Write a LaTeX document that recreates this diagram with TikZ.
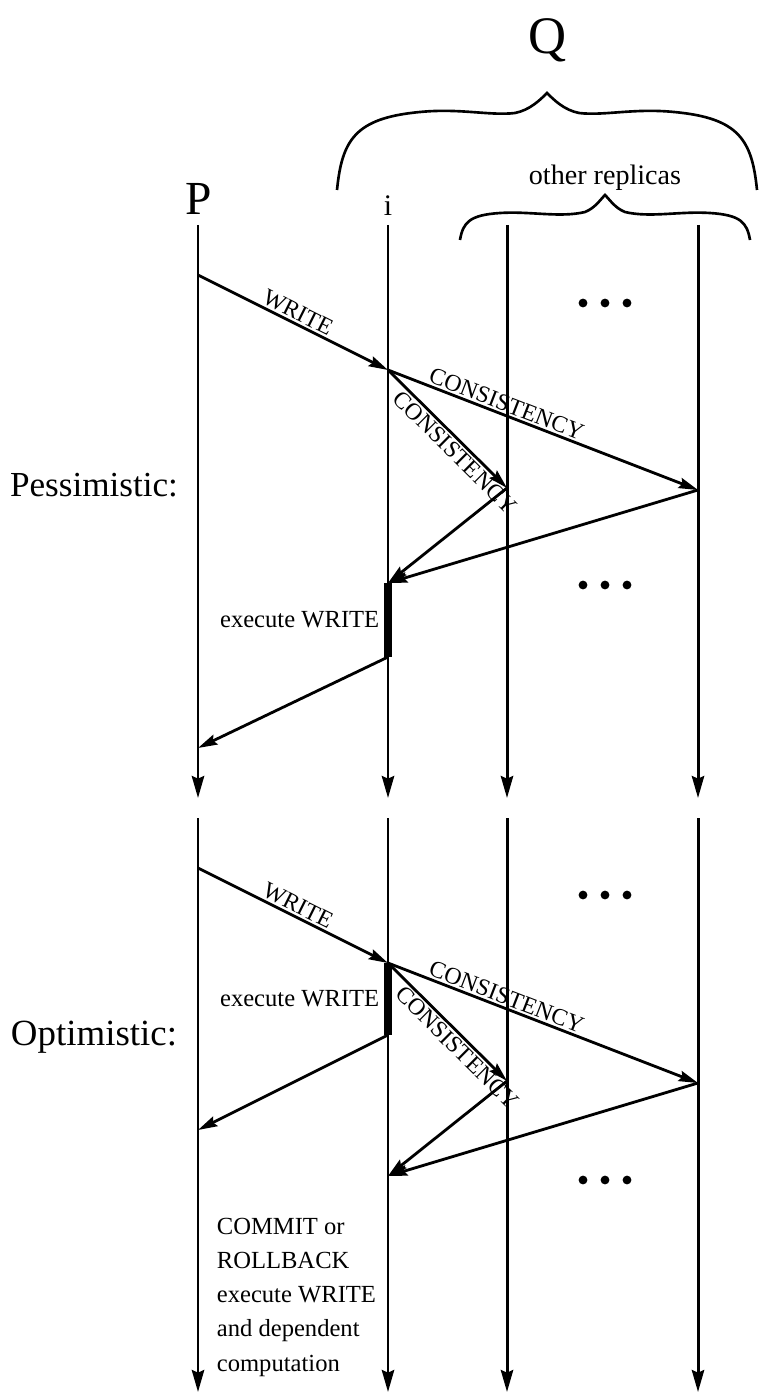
\documentclass[tikz,border=0pt]{standalone}
\usepackage{fontspec}
\setmainfont{Liberation Serif}
\usetikzlibrary{arrows.meta}

\begin{document}
\begin{tikzpicture}[
  x=0.02cm, y=-0.02cm,
  life/.style={line width=1.7pt, -{Stealth[length=12.5pt, width=7pt, inset=1.5pt]}},
  msg/.style={line width=1.6pt, -{Stealth[length=11pt, width=6pt, inset=1.5pt]}},
  busy/.style={line width=4pt},
  brc/.style={line width=1.5pt},
  lbl/.style={font=\fontsize{13.5}{14}\selectfont, sloped, inner sep=1pt},
  note/.style={font=\fontsize{14}{19.5}\selectfont, align=left, inner sep=2pt},
  mode/.style={font=\fontsize{20}{20}\selectfont}
]
\useasboundingbox (0,0) rectangle (764,1395);

% names of the processes
\node (q) at (548,40) {\fontsize{30}{30}\selectfont Q};
\node (p) at (199,199) {\fontsize{27}{27}\selectfont P};
\node (i) at (388,206) {\fontsize{17}{17}\selectfont i};
\node (others) at (605,178) {\fontsize{16}{16}\selectfont other replicas};

% braces
\draw[brc] (337,190) .. controls (342,140) and (355,118) .. (420,112)
  .. controls (460,108) and (490,116) .. (515,113)
  .. controls (530,110) and (540,100) .. (547,93)
  .. controls (554,100) and (564,110) .. (579,113)
  .. controls (604,116) and (634,108) .. (674,112)
  .. controls (739,118) and (752,140) .. (757,190);
\draw[brc] (460,240) .. controls (463,222) and (470,215) .. (500,213)
  .. controls (530,211) and (560,218) .. (585,212)
  .. controls (595,208) and (600,200) .. (605,195)
  .. controls (610,200) and (615,208) .. (625,212)
  .. controls (650,218) and (680,211) .. (710,213)
  .. controls (740,215) and (747,222) .. (750,240);

% lifelines
\foreach \x in {198,388,507,698} {
  \coordinate (top\x) at (\x,225);
  \coordinate (mid\x) at (\x,798);
  \coordinate (low\x) at (\x,818);
  \coordinate (end\x) at (\x,1392);
  \draw[life] (top\x) -- (mid\x);
  \draw[life] (low\x) -- (end\x);
}

% dots for the replicas left out
\foreach \y in {303,585,895,1180}
  \foreach \x in {583,605,627}
    \fill (\x,\y) circle (4.4);

\node[mode] (pess) at (94,485) {Pessimistic:};
\node[mode] (opt) at (94,1037) {\fontsize{21}{21}\selectfont Optimistic:};

% pessimistic
\coordinate (w1p) at (198,275);
\coordinate (w1i) at (388,370);
\coordinate (c1a) at (507,488);
\coordinate (c1b) at (698,490);
\coordinate (a1i) at (388,583);
\coordinate (x1i) at (388,657);
\coordinate (r1p) at (198,748);
\draw[msg] (w1p) -- node[lbl, above, pos=0.5] {WRITE} (w1i);
\draw[msg] (w1i) -- node[lbl, above, pos=0.37] {CONSISTENCY} (c1b);
\draw[msg] (w1i) -- node[lbl, below, pos=0.63] {CONSISTENCY} (c1a);
\draw[msg] (c1a) -- (a1i);
\draw[msg] (c1b) -- (a1i);
\draw[busy] (a1i) -- node[note, left=1pt] {execute WRITE} (x1i);
\draw[msg] (x1i) -- (r1p);

% optimistic
\coordinate (w2p) at (198,868);
\coordinate (w2i) at (388,963);
\coordinate (x2i) at (388,1035);
\coordinate (c2a) at (507,1081);
\coordinate (c2b) at (698,1083);
\coordinate (r2p) at (198,1130);
\coordinate (a2i) at (388,1176);
\draw[msg] (w2p) -- node[lbl, above, pos=0.5] {WRITE} (w2i);
\draw[busy] (w2i) -- node[note, left=1pt] {execute WRITE} (x2i);
\draw[msg] (w2i) -- node[lbl, above, pos=0.37] {CONSISTENCY} (c2b);
\draw[msg] (w2i) -- node[lbl, below, pos=0.65] {CONSISTENCY} (c2a);
\draw[msg] (x2i) -- (r2p);
\draw[msg] (c2a) -- (a2i);
\draw[msg] (c2b) -- (a2i);
\node[note, anchor=north west] (commit) at (213,1214)
  {COMMIT or\\ROLLBACK\\execute WRITE\\and dependent\\computation};
\end{tikzpicture}
\end{document}
